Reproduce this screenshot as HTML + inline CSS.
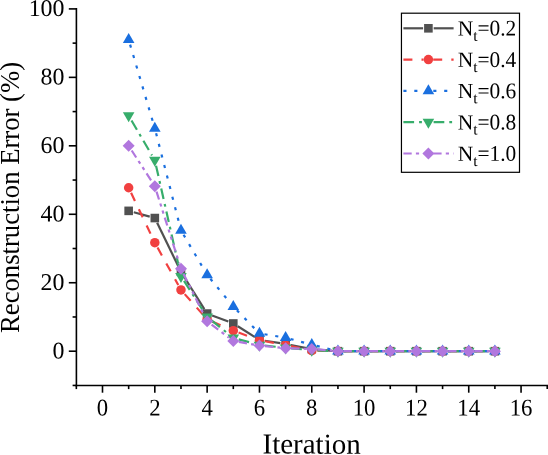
<!DOCTYPE html>
<html><head><meta charset="utf-8"><title>Chart</title>
<style>html,body{margin:0;padding:0;background:#fff}body{width:548px;height:455px;overflow:hidden;font-family:"Liberation Serif",serif}</style>
</head><body>
<svg width="548" height="455" viewBox="0 0 548 455" style="display:block;will-change:transform;transform:translateZ(0)">
<rect width="548" height="455" fill="#fff"/>
<line x1="133.77" y1="212.26" x2="149.71" y2="216.64" stroke="#515151" stroke-width="2.2"/>
<line x1="157.14" y1="222.81" x2="178.66" y2="267.02" stroke="#515151" stroke-width="2.2"/>
<line x1="183.79" y1="276.28" x2="204.33" y2="309.06" stroke="#515151" stroke-width="2.2"/>
<line x1="212.10" y1="315.43" x2="228.34" y2="321.59" stroke="#515151" stroke-width="2.2"/>
<line x1="237.79" y1="326.29" x2="254.97" y2="337.09" stroke="#515151" stroke-width="2.2"/>
<line x1="264.70" y1="340.73" x2="280.38" y2="343.19" stroke="#515151" stroke-width="2.2"/>
<line x1="290.82" y1="345.03" x2="306.58" y2="348.13" stroke="#515151" stroke-width="2.2"/>
<line x1="317.06" y1="349.56" x2="332.66" y2="350.79" stroke="#515151" stroke-width="2.2"/>
<line x1="343.24" y1="351.20" x2="358.80" y2="351.20" stroke="#515151" stroke-width="2.2"/>
<line x1="369.40" y1="351.20" x2="384.96" y2="351.20" stroke="#515151" stroke-width="2.2"/>
<line x1="395.56" y1="351.20" x2="411.12" y2="351.20" stroke="#515151" stroke-width="2.2"/>
<line x1="421.72" y1="351.20" x2="437.28" y2="351.20" stroke="#515151" stroke-width="2.2"/>
<line x1="447.88" y1="351.20" x2="463.44" y2="351.20" stroke="#515151" stroke-width="2.2"/>
<line x1="474.04" y1="351.20" x2="489.60" y2="351.20" stroke="#515151" stroke-width="2.2"/>
<rect x="124.36" y="206.56" width="8.60" height="8.60" fill="#515151"/>
<rect x="150.52" y="213.75" width="8.60" height="8.60" fill="#515151"/>
<rect x="176.68" y="267.49" width="8.60" height="8.60" fill="#515151"/>
<rect x="202.84" y="309.25" width="8.60" height="8.60" fill="#515151"/>
<rect x="229.00" y="319.17" width="8.60" height="8.60" fill="#515151"/>
<rect x="255.16" y="335.60" width="8.60" height="8.60" fill="#515151"/>
<rect x="281.32" y="339.71" width="8.60" height="8.60" fill="#515151"/>
<rect x="307.48" y="344.85" width="8.60" height="8.60" fill="#515151"/>
<rect x="333.64" y="346.90" width="8.60" height="8.60" fill="#515151"/>
<rect x="359.80" y="346.90" width="8.60" height="8.60" fill="#515151"/>
<rect x="385.96" y="346.90" width="8.60" height="8.60" fill="#515151"/>
<rect x="412.12" y="346.90" width="8.60" height="8.60" fill="#515151"/>
<rect x="438.28" y="346.90" width="8.60" height="8.60" fill="#515151"/>
<rect x="464.44" y="346.90" width="8.60" height="8.60" fill="#515151"/>
<rect x="490.60" y="346.90" width="8.60" height="8.60" fill="#515151"/>
<line x1="131.07" y1="192.81" x2="152.41" y2="237.63" stroke="#F14040" stroke-width="2.2" stroke-dasharray="9 9.1"/>
<line x1="157.53" y1="247.59" x2="178.27" y2="285.03" stroke="#F14040" stroke-width="2.2" stroke-dasharray="9 9.1"/>
<line x1="184.70" y1="294.11" x2="203.42" y2="315.18" stroke="#F14040" stroke-width="2.2" stroke-dasharray="9 9.1"/>
<line x1="212.28" y1="321.59" x2="228.16" y2="328.44" stroke="#F14040" stroke-width="2.2" stroke-dasharray="9 9.1"/>
<line x1="238.56" y1="332.59" x2="254.20" y2="338.32" stroke="#F14040" stroke-width="2.2" stroke-dasharray="9 9.1"/>
<line x1="264.97" y1="341.26" x2="280.11" y2="344.03" stroke="#F14040" stroke-width="2.2" stroke-dasharray="9 9.1"/>
<line x1="291.10" y1="346.19" x2="306.30" y2="349.37" stroke="#F14040" stroke-width="2.2" stroke-dasharray="9 9.1"/>
<line x1="317.38" y1="350.66" x2="332.34" y2="351.05" stroke="#F14040" stroke-width="2.2" stroke-dasharray="9 9.1"/>
<line x1="343.54" y1="351.20" x2="358.50" y2="351.20" stroke="#F14040" stroke-width="2.2" stroke-dasharray="9 9.1"/>
<line x1="369.70" y1="351.20" x2="384.66" y2="351.20" stroke="#F14040" stroke-width="2.2" stroke-dasharray="9 9.1"/>
<line x1="395.86" y1="351.20" x2="410.82" y2="351.20" stroke="#F14040" stroke-width="2.2" stroke-dasharray="9 9.1"/>
<line x1="422.02" y1="351.20" x2="436.98" y2="351.20" stroke="#F14040" stroke-width="2.2" stroke-dasharray="9 9.1"/>
<line x1="448.18" y1="351.20" x2="463.14" y2="351.20" stroke="#F14040" stroke-width="2.2" stroke-dasharray="9 9.1"/>
<line x1="474.34" y1="351.20" x2="489.30" y2="351.20" stroke="#F14040" stroke-width="2.2" stroke-dasharray="9 9.1"/>
<circle cx="128.66" cy="187.75" r="4.75" fill="#F14040"/>
<circle cx="154.82" cy="242.69" r="4.75" fill="#F14040"/>
<circle cx="180.98" cy="289.93" r="4.75" fill="#F14040"/>
<circle cx="207.14" cy="319.37" r="4.75" fill="#F14040"/>
<circle cx="233.30" cy="330.66" r="4.75" fill="#F14040"/>
<circle cx="259.46" cy="340.25" r="4.75" fill="#F14040"/>
<circle cx="285.62" cy="345.04" r="4.75" fill="#F14040"/>
<circle cx="311.78" cy="350.52" r="4.75" fill="#F14040"/>
<circle cx="337.94" cy="351.20" r="4.75" fill="#F14040"/>
<circle cx="364.10" cy="351.20" r="4.75" fill="#F14040"/>
<circle cx="390.26" cy="351.20" r="4.75" fill="#F14040"/>
<circle cx="416.42" cy="351.20" r="4.75" fill="#F14040"/>
<circle cx="442.58" cy="351.20" r="4.75" fill="#F14040"/>
<circle cx="468.74" cy="351.20" r="4.75" fill="#F14040"/>
<circle cx="494.90" cy="351.20" r="4.75" fill="#F14040"/>
<line x1="130.10" y1="44.60" x2="153.38" y2="123.47" stroke="#1A6FDF" stroke-width="2.2" stroke-dasharray="3.1 7.8"/>
<line x1="156.09" y1="133.30" x2="179.71" y2="225.43" stroke="#1A6FDF" stroke-width="2.2" stroke-dasharray="3.1 7.8"/>
<line x1="183.56" y1="234.76" x2="204.56" y2="270.47" stroke="#1A6FDF" stroke-width="2.2" stroke-dasharray="3.1 7.8"/>
<line x1="210.38" y1="278.81" x2="230.06" y2="302.76" stroke="#1A6FDF" stroke-width="2.2" stroke-dasharray="3.1 7.8"/>
<line x1="236.87" y1="310.34" x2="255.89" y2="329.76" stroke="#1A6FDF" stroke-width="2.2" stroke-dasharray="3.1 7.8"/>
<line x1="264.49" y1="334.22" x2="280.59" y2="336.86" stroke="#1A6FDF" stroke-width="2.2" stroke-dasharray="3.1 7.8"/>
<line x1="290.55" y1="339.00" x2="306.85" y2="343.37" stroke="#1A6FDF" stroke-width="2.2" stroke-dasharray="3.1 7.8"/>
<line x1="316.73" y1="345.93" x2="332.99" y2="349.97" stroke="#1A6FDF" stroke-width="2.2" stroke-dasharray="3.1 7.8"/>
<line x1="343.04" y1="351.20" x2="359.00" y2="351.20" stroke="#1A6FDF" stroke-width="2.2" stroke-dasharray="3.1 7.8"/>
<line x1="369.20" y1="351.20" x2="385.16" y2="351.20" stroke="#1A6FDF" stroke-width="2.2" stroke-dasharray="3.1 7.8"/>
<line x1="395.36" y1="351.20" x2="411.32" y2="351.20" stroke="#1A6FDF" stroke-width="2.2" stroke-dasharray="3.1 7.8"/>
<line x1="421.52" y1="351.20" x2="437.48" y2="351.20" stroke="#1A6FDF" stroke-width="2.2" stroke-dasharray="3.1 7.8"/>
<line x1="447.68" y1="351.20" x2="463.64" y2="351.20" stroke="#1A6FDF" stroke-width="2.2" stroke-dasharray="3.1 7.8"/>
<line x1="473.84" y1="351.20" x2="489.80" y2="351.20" stroke="#1A6FDF" stroke-width="2.2" stroke-dasharray="3.1 7.8"/>
<polygon points="128.66,33.06 134.46,43.06 122.86,43.06" fill="#1A6FDF"/>
<polygon points="154.82,121.71 160.62,131.71 149.02,131.71" fill="#1A6FDF"/>
<polygon points="180.98,223.72 186.78,233.72 175.18,233.72" fill="#1A6FDF"/>
<polygon points="207.14,268.22 212.94,278.22 201.34,278.22" fill="#1A6FDF"/>
<polygon points="233.30,300.05 239.10,310.05 227.50,310.05" fill="#1A6FDF"/>
<polygon points="259.46,326.75 265.26,336.75 253.66,336.75" fill="#1A6FDF"/>
<polygon points="285.62,331.03 291.42,341.03 279.82,341.03" fill="#1A6FDF"/>
<polygon points="311.78,338.05 317.58,348.05 305.98,348.05" fill="#1A6FDF"/>
<polygon points="337.94,344.55 343.74,354.55 332.14,354.55" fill="#1A6FDF"/>
<polygon points="364.10,344.55 369.90,354.55 358.30,354.55" fill="#1A6FDF"/>
<polygon points="390.26,344.55 396.06,354.55 384.46,354.55" fill="#1A6FDF"/>
<polygon points="416.42,344.55 422.22,354.55 410.62,354.55" fill="#1A6FDF"/>
<polygon points="442.58,344.55 448.38,354.55 436.78,354.55" fill="#1A6FDF"/>
<polygon points="468.74,344.55 474.54,354.55 462.94,354.55" fill="#1A6FDF"/>
<polygon points="494.90,344.55 500.70,354.55 489.10,354.55" fill="#1A6FDF"/>
<line x1="131.50" y1="120.53" x2="151.98" y2="155.37" stroke="#37AD6B" stroke-width="2.2" stroke-dasharray="10.7 5 2.8 5"/>
<line x1="156.05" y1="165.66" x2="179.75" y2="270.77" stroke="#37AD6B" stroke-width="2.2" stroke-dasharray="10.7 5 2.8 5"/>
<line x1="184.01" y1="280.95" x2="204.11" y2="312.26" stroke="#37AD6B" stroke-width="2.2" stroke-dasharray="10.7 5 2.8 5"/>
<line x1="211.52" y1="320.46" x2="228.92" y2="334.36" stroke="#37AD6B" stroke-width="2.2" stroke-dasharray="10.7 5 2.8 5"/>
<line x1="238.70" y1="339.33" x2="254.06" y2="343.55" stroke="#37AD6B" stroke-width="2.2" stroke-dasharray="10.7 5 2.8 5"/>
<line x1="265.03" y1="345.62" x2="280.05" y2="347.19" stroke="#37AD6B" stroke-width="2.2" stroke-dasharray="10.7 5 2.8 5"/>
<line x1="291.20" y1="348.29" x2="306.20" y2="349.66" stroke="#37AD6B" stroke-width="2.2" stroke-dasharray="10.7 5 2.8 5"/>
<line x1="317.38" y1="350.39" x2="332.34" y2="350.98" stroke="#37AD6B" stroke-width="2.2" stroke-dasharray="10.7 5 2.8 5"/>
<line x1="343.54" y1="351.20" x2="358.50" y2="351.20" stroke="#37AD6B" stroke-width="2.2" stroke-dasharray="10.7 5 2.8 5"/>
<line x1="369.70" y1="351.20" x2="384.66" y2="351.20" stroke="#37AD6B" stroke-width="2.2" stroke-dasharray="10.7 5 2.8 5"/>
<line x1="395.86" y1="351.20" x2="410.82" y2="351.20" stroke="#37AD6B" stroke-width="2.2" stroke-dasharray="10.7 5 2.8 5"/>
<line x1="422.02" y1="351.20" x2="436.98" y2="351.20" stroke="#37AD6B" stroke-width="2.2" stroke-dasharray="10.7 5 2.8 5"/>
<line x1="448.18" y1="351.20" x2="463.14" y2="351.20" stroke="#37AD6B" stroke-width="2.2" stroke-dasharray="10.7 5 2.8 5"/>
<line x1="474.34" y1="351.20" x2="489.30" y2="351.20" stroke="#37AD6B" stroke-width="2.2" stroke-dasharray="10.7 5 2.8 5"/>
<polygon points="128.66,122.35 134.46,112.35 122.86,112.35" fill="#37AD6B"/>
<polygon points="154.82,166.85 160.62,156.85 149.02,156.85" fill="#37AD6B"/>
<polygon points="180.98,282.89 186.78,272.89 175.18,272.89" fill="#37AD6B"/>
<polygon points="207.14,323.62 212.94,313.62 201.34,313.62" fill="#37AD6B"/>
<polygon points="233.30,344.50 239.10,334.50 227.50,334.50" fill="#37AD6B"/>
<polygon points="259.46,351.69 265.26,341.69 253.66,341.69" fill="#37AD6B"/>
<polygon points="285.62,354.43 291.42,344.43 279.82,344.43" fill="#37AD6B"/>
<polygon points="311.78,356.82 317.58,346.82 305.98,346.82" fill="#37AD6B"/>
<polygon points="337.94,357.85 343.74,347.85 332.14,347.85" fill="#37AD6B"/>
<polygon points="364.10,357.85 369.90,347.85 358.30,347.85" fill="#37AD6B"/>
<polygon points="390.26,357.85 396.06,347.85 384.46,347.85" fill="#37AD6B"/>
<polygon points="416.42,357.85 422.22,347.85 410.62,347.85" fill="#37AD6B"/>
<polygon points="442.58,357.85 448.38,347.85 436.78,347.85" fill="#37AD6B"/>
<polygon points="468.74,357.85 474.54,347.85 462.94,347.85" fill="#37AD6B"/>
<polygon points="494.90,357.85 500.70,347.85 489.10,347.85" fill="#37AD6B"/>
<line x1="131.70" y1="150.52" x2="151.78" y2="181.51" stroke="#B177DE" stroke-width="2.2" stroke-dasharray="8.3 4.2 3.2 4.2 3.2 4.2"/>
<line x1="156.51" y1="191.55" x2="179.29" y2="263.37" stroke="#B177DE" stroke-width="2.2" stroke-dasharray="8.3 4.2 3.2 4.2 3.2 4.2"/>
<line x1="183.48" y1="273.72" x2="204.64" y2="316.20" stroke="#B177DE" stroke-width="2.2" stroke-dasharray="8.3 4.2 3.2 4.2 3.2 4.2"/>
<line x1="211.61" y1="324.59" x2="228.83" y2="337.56" stroke="#B177DE" stroke-width="2.2" stroke-dasharray="8.3 4.2 3.2 4.2 3.2 4.2"/>
<line x1="238.81" y1="341.91" x2="253.95" y2="344.58" stroke="#B177DE" stroke-width="2.2" stroke-dasharray="8.3 4.2 3.2 4.2 3.2 4.2"/>
<line x1="265.03" y1="346.14" x2="280.05" y2="347.71" stroke="#B177DE" stroke-width="2.2" stroke-dasharray="8.3 4.2 3.2 4.2 3.2 4.2"/>
<line x1="291.22" y1="348.44" x2="306.18" y2="348.83" stroke="#B177DE" stroke-width="2.2" stroke-dasharray="8.3 4.2 3.2 4.2 3.2 4.2"/>
<line x1="317.36" y1="349.45" x2="332.36" y2="350.73" stroke="#B177DE" stroke-width="2.2" stroke-dasharray="8.3 4.2 3.2 4.2 3.2 4.2"/>
<line x1="343.54" y1="351.20" x2="358.50" y2="351.20" stroke="#B177DE" stroke-width="2.2" stroke-dasharray="8.3 4.2 3.2 4.2 3.2 4.2"/>
<line x1="369.70" y1="351.20" x2="384.66" y2="351.20" stroke="#B177DE" stroke-width="2.2" stroke-dasharray="8.3 4.2 3.2 4.2 3.2 4.2"/>
<line x1="395.86" y1="351.20" x2="410.82" y2="351.20" stroke="#B177DE" stroke-width="2.2" stroke-dasharray="8.3 4.2 3.2 4.2 3.2 4.2"/>
<line x1="422.02" y1="351.20" x2="436.98" y2="351.20" stroke="#B177DE" stroke-width="2.2" stroke-dasharray="8.3 4.2 3.2 4.2 3.2 4.2"/>
<line x1="448.18" y1="351.20" x2="463.14" y2="351.20" stroke="#B177DE" stroke-width="2.2" stroke-dasharray="8.3 4.2 3.2 4.2 3.2 4.2"/>
<line x1="474.34" y1="351.20" x2="489.30" y2="351.20" stroke="#B177DE" stroke-width="2.2" stroke-dasharray="8.3 4.2 3.2 4.2 3.2 4.2"/>
<polygon points="128.66,139.82 134.66,145.82 128.66,151.82 122.66,145.82" fill="#B177DE"/>
<polygon points="154.82,180.21 160.82,186.21 154.82,192.21 148.82,186.21" fill="#B177DE"/>
<polygon points="180.98,262.71 186.98,268.71 180.98,274.71 174.98,268.71" fill="#B177DE"/>
<polygon points="207.14,315.21 213.14,321.21 207.14,327.21 201.14,321.21" fill="#B177DE"/>
<polygon points="233.30,334.93 239.30,340.93 233.30,346.93 227.30,340.93" fill="#B177DE"/>
<polygon points="259.46,339.55 265.46,345.55 259.46,351.55 253.46,345.55" fill="#B177DE"/>
<polygon points="285.62,342.29 291.62,348.29 285.62,354.29 279.62,348.29" fill="#B177DE"/>
<polygon points="311.78,342.98 317.78,348.98 311.78,354.98 305.78,348.98" fill="#B177DE"/>
<polygon points="337.94,345.20 343.94,351.20 337.94,357.20 331.94,351.20" fill="#B177DE"/>
<polygon points="364.10,345.20 370.10,351.20 364.10,357.20 358.10,351.20" fill="#B177DE"/>
<polygon points="390.26,345.20 396.26,351.20 390.26,357.20 384.26,351.20" fill="#B177DE"/>
<polygon points="416.42,345.20 422.42,351.20 416.42,357.20 410.42,351.20" fill="#B177DE"/>
<polygon points="442.58,345.20 448.58,351.20 442.58,357.20 436.58,351.20" fill="#B177DE"/>
<polygon points="468.74,345.20 474.74,351.20 468.74,357.20 462.74,351.20" fill="#B177DE"/>
<polygon points="494.90,345.20 500.90,351.20 494.90,357.20 488.90,351.20" fill="#B177DE"/>
<g stroke="#000" stroke-width="1.6" fill="none">
<line x1="76.40" y1="8.10" x2="76.40" y2="386.30"/>
<line x1="75.60" y1="385.50" x2="548" y2="385.50"/>
<line x1="72.60" y1="385.43" x2="76.40" y2="385.43"/>
<line x1="68.80" y1="351.20" x2="76.40" y2="351.20"/>
<line x1="72.60" y1="316.97" x2="76.40" y2="316.97"/>
<line x1="68.80" y1="282.74" x2="76.40" y2="282.74"/>
<line x1="72.60" y1="248.51" x2="76.40" y2="248.51"/>
<line x1="68.80" y1="214.28" x2="76.40" y2="214.28"/>
<line x1="72.60" y1="180.05" x2="76.40" y2="180.05"/>
<line x1="68.80" y1="145.82" x2="76.40" y2="145.82"/>
<line x1="72.60" y1="111.59" x2="76.40" y2="111.59"/>
<line x1="68.80" y1="77.36" x2="76.40" y2="77.36"/>
<line x1="72.60" y1="43.13" x2="76.40" y2="43.13"/>
<line x1="68.80" y1="8.90" x2="76.40" y2="8.90"/>
<line x1="76.34" y1="385.50" x2="76.34" y2="389.10"/>
<line x1="102.50" y1="385.50" x2="102.50" y2="392.70"/>
<line x1="128.66" y1="385.50" x2="128.66" y2="389.10"/>
<line x1="154.82" y1="385.50" x2="154.82" y2="392.70"/>
<line x1="180.98" y1="385.50" x2="180.98" y2="389.10"/>
<line x1="207.14" y1="385.50" x2="207.14" y2="392.70"/>
<line x1="233.30" y1="385.50" x2="233.30" y2="389.10"/>
<line x1="259.46" y1="385.50" x2="259.46" y2="392.70"/>
<line x1="285.62" y1="385.50" x2="285.62" y2="389.10"/>
<line x1="311.78" y1="385.50" x2="311.78" y2="392.70"/>
<line x1="337.94" y1="385.50" x2="337.94" y2="389.10"/>
<line x1="364.10" y1="385.50" x2="364.10" y2="392.70"/>
<line x1="390.26" y1="385.50" x2="390.26" y2="389.10"/>
<line x1="416.42" y1="385.50" x2="416.42" y2="392.70"/>
<line x1="442.58" y1="385.50" x2="442.58" y2="389.10"/>
<line x1="468.74" y1="385.50" x2="468.74" y2="392.70"/>
<line x1="494.90" y1="385.50" x2="494.90" y2="389.10"/>
<line x1="521.06" y1="385.50" x2="521.06" y2="392.70"/>
<line x1="547.22" y1="385.50" x2="547.22" y2="389.10"/>
</g>
<g font-family="Liberation Serif, serif" font-size="24.0" fill="#000">
<text transform="translate(64.5,358.40) rotate(0.03) scale(0.995,1)" text-anchor="end">0</text>
<text transform="translate(64.5,289.94) rotate(0.03) scale(0.995,1)" text-anchor="end">20</text>
<text transform="translate(64.5,221.48) rotate(0.03) scale(0.995,1)" text-anchor="end">40</text>
<text transform="translate(64.5,153.02) rotate(0.03) scale(0.995,1)" text-anchor="end">60</text>
<text transform="translate(64.5,84.56) rotate(0.03) scale(0.995,1)" text-anchor="end">80</text>
<text transform="translate(64.5,16.10) rotate(0.03) scale(0.995,1)" text-anchor="end">100</text>
<text transform="translate(102.50,415.6) rotate(0.03) scale(0.948,1)" text-anchor="middle">0</text>
<text transform="translate(154.82,415.6) rotate(0.03) scale(0.948,1)" text-anchor="middle">2</text>
<text transform="translate(207.14,415.6) rotate(0.03) scale(0.948,1)" text-anchor="middle">4</text>
<text transform="translate(259.46,415.6) rotate(0.03) scale(0.948,1)" text-anchor="middle">6</text>
<text transform="translate(311.78,415.6) rotate(0.03) scale(0.948,1)" text-anchor="middle">8</text>
<text transform="translate(364.10,415.6) rotate(0.03) scale(0.948,1)" text-anchor="middle">10</text>
<text transform="translate(416.42,415.6) rotate(0.03) scale(0.948,1)" text-anchor="middle">12</text>
<text transform="translate(468.74,415.6) rotate(0.03) scale(0.948,1)" text-anchor="middle">14</text>
<text transform="translate(521.06,415.6) rotate(0.03) scale(0.948,1)" text-anchor="middle">16</text>
</g>
<text transform="translate(262.5,453.6) rotate(0.03)" font-family="Liberation Serif, serif" font-size="29" fill="#000">Iteration</text>
<text transform="translate(18.9,333.0) rotate(-90) scale(0.96,1)" font-family="Liberation Serif, serif" font-size="27.8" fill="#000">Reconstruction Error (%)</text>
<rect x="401.45" y="13.2" width="118.05" height="159.1" fill="#fff" stroke="#000" stroke-width="1.2"/>
<line x1="403.40" y1="28.30" x2="423.10" y2="28.30" stroke="#515151" stroke-width="2.2"/>
<line x1="433.70" y1="28.30" x2="453.60" y2="28.30" stroke="#515151" stroke-width="2.2"/>
<rect x="424.10" y="24.00" width="8.60" height="8.60" fill="#515151"/>
<text transform="translate(457.65,35.50) rotate(0.03)" font-family="Liberation Serif, serif" font-size="21.5" fill="#000">N</text>
<text transform="translate(473.3,40.70) rotate(0.03)" font-family="Liberation Serif, serif" font-size="15.5" fill="#000">t</text>
<text transform="translate(477.5,35.60) rotate(0.03) scale(0.955,1)" font-family="Liberation Serif, serif" font-size="22.4" fill="#000">=0.2</text>
<line x1="403.40" y1="59.60" x2="423.60" y2="59.60" stroke="#F14040" stroke-width="2.2" stroke-dasharray="9 9.1"/>
<line x1="433.20" y1="59.60" x2="453.60" y2="59.60" stroke="#F14040" stroke-width="2.2" stroke-dasharray="9 9.1"/>
<circle cx="428.40" cy="59.60" r="4.75" fill="#F14040"/>
<text transform="translate(457.65,66.80) rotate(0.03)" font-family="Liberation Serif, serif" font-size="21.5" fill="#000">N</text>
<text transform="translate(473.3,72.00) rotate(0.03)" font-family="Liberation Serif, serif" font-size="15.5" fill="#000">t</text>
<text transform="translate(477.5,66.90) rotate(0.03) scale(0.955,1)" font-family="Liberation Serif, serif" font-size="22.4" fill="#000">=0.4</text>
<line x1="403.40" y1="90.90" x2="423.50" y2="90.90" stroke="#1A6FDF" stroke-width="2.2" stroke-dasharray="3.1 7.8"/>
<line x1="433.30" y1="90.90" x2="453.60" y2="90.90" stroke="#1A6FDF" stroke-width="2.2" stroke-dasharray="3.1 7.8"/>
<polygon points="428.40,84.25 434.20,94.25 422.60,94.25" fill="#1A6FDF"/>
<text transform="translate(457.65,98.10) rotate(0.03)" font-family="Liberation Serif, serif" font-size="21.5" fill="#000">N</text>
<text transform="translate(473.3,103.30) rotate(0.03)" font-family="Liberation Serif, serif" font-size="15.5" fill="#000">t</text>
<text transform="translate(477.5,98.20) rotate(0.03) scale(0.955,1)" font-family="Liberation Serif, serif" font-size="22.4" fill="#000">=0.6</text>
<line x1="403.40" y1="122.20" x2="423.20" y2="122.20" stroke="#37AD6B" stroke-width="2.2" stroke-dasharray="10.7 5 2.8 5"/>
<line x1="433.60" y1="122.20" x2="453.60" y2="122.20" stroke="#37AD6B" stroke-width="2.2" stroke-dasharray="10.7 5 2.8 5"/>
<polygon points="428.40,128.85 434.20,118.85 422.60,118.85" fill="#37AD6B"/>
<text transform="translate(457.65,129.40) rotate(0.03)" font-family="Liberation Serif, serif" font-size="21.5" fill="#000">N</text>
<text transform="translate(473.3,134.60) rotate(0.03)" font-family="Liberation Serif, serif" font-size="15.5" fill="#000">t</text>
<text transform="translate(477.5,129.50) rotate(0.03) scale(0.955,1)" font-family="Liberation Serif, serif" font-size="22.4" fill="#000">=0.8</text>
<line x1="403.40" y1="153.50" x2="423.50" y2="153.50" stroke="#B177DE" stroke-width="2.2" stroke-dasharray="8.3 4.2 3.2 4.2 3.2 4.2"/>
<line x1="433.30" y1="153.50" x2="453.60" y2="153.50" stroke="#B177DE" stroke-width="2.2" stroke-dasharray="8.3 4.2 3.2 4.2 3.2 4.2"/>
<polygon points="428.40,147.50 434.40,153.50 428.40,159.50 422.40,153.50" fill="#B177DE"/>
<text transform="translate(457.65,160.70) rotate(0.03)" font-family="Liberation Serif, serif" font-size="21.5" fill="#000">N</text>
<text transform="translate(473.3,165.90) rotate(0.03)" font-family="Liberation Serif, serif" font-size="15.5" fill="#000">t</text>
<text transform="translate(477.5,160.80) rotate(0.03) scale(0.955,1)" font-family="Liberation Serif, serif" font-size="22.4" fill="#000">=1.0</text>
</svg>
</body></html>
